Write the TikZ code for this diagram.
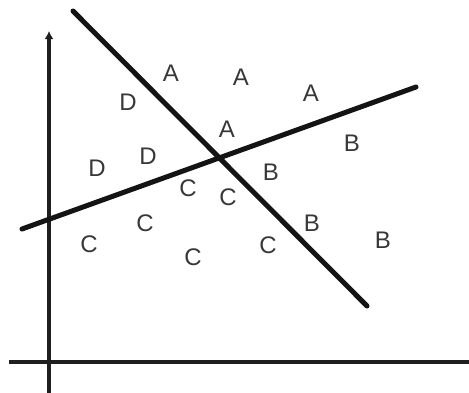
\documentclass[tikz,border=0pt]{standalone}
\usepackage{fontspec}
\setmainfont{Liberation Sans}
\usetikzlibrary{arrows.meta}
\begin{document}
\begin{tikzpicture}[x=1pt,y=-1pt,>=Latex,
axis line/.style={line width=3.2pt,draw=black!88},
split line/.style={line width=5pt,line cap=round,draw=black!92},
region label/.style={inner sep=0pt,text=black!78,font=\fontsize{24}{24}\selectfont}]
\useasboundingbox (0,0) rectangle (469,392);
\clip (0,0) rectangle (469,392);
% axes
\coordinate (y0) at (49,394);
\coordinate (y1) at (49,31);
\coordinate (x0) at (9,362);
\coordinate (x1) at (477,362);
\draw[axis line,-{Latex[length=8pt,width=9pt]}] (y0) -- (y1);
\draw[axis line,-{Latex[length=8pt,width=9pt]}] (x0) -- (x1);
% separating lines
\coordinate (p0) at (73,11);
\coordinate (p1) at (367,306);
\coordinate (q0) at (22,229);
\coordinate (q1) at (416,87);
\draw[split line] (p0) -- (p1);
\draw[split line] (q0) -- (q1);
% class labels
\node[region label] (a1) at (171,73) {A};
\node[region label] (a2) at (241,77) {A};
\node[region label] (a3) at (311,93) {A};
\node[region label] (a4) at (227,129) {A};
\node[region label] (d1) at (128,102) {D};
\node[region label] (d2) at (148,156) {D};
\node[region label] (d3) at (97,168) {D};
\node[region label] (b1) at (352,143) {B};
\node[region label] (b2) at (271,172) {B};
\node[region label] (b3) at (312,223) {B};
\node[region label] (b4) at (383,240) {B};
\node[region label] (c1) at (188,188) {C};
\node[region label] (c2) at (228,197) {C};
\node[region label] (c3) at (145,223) {C};
\node[region label] (c4) at (89,244) {C};
\node[region label] (c5) at (193,257) {C};
\node[region label] (c6) at (268,245) {C};
\end{tikzpicture}
\end{document}
